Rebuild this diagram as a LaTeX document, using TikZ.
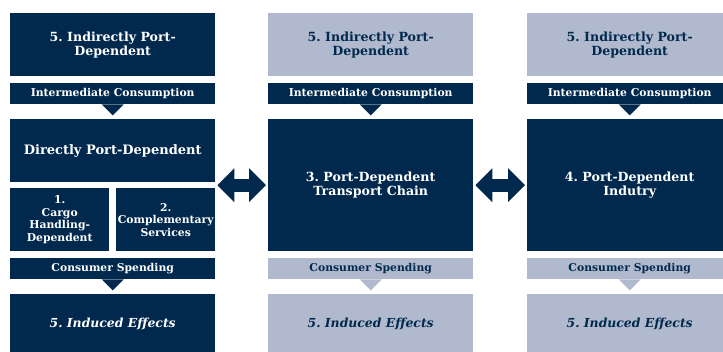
\documentclass[tikz,border=0pt]{standalone}
\usepackage{fontspec}
\setmainfont{DejaVu Serif}
\usetikzlibrary{arrows.meta}
\definecolor{portnavy}{RGB}{0,41,77}
\definecolor{portgrey}{RGB}{176,185,205}
\frenchspacing

\begin{document}
\begin{tikzpicture}[x=1pt, y=-1pt,
    darkbox/.style={fill=portnavy, text=white, anchor=north west, align=center, inner sep=0pt,
        minimum width=205pt, font=\bfseries\fontsize{12.6}{14}\selectfont},
    lightbox/.style={darkbox, fill=portgrey, text=portnavy},
    darkband/.style={darkbox, minimum height=21pt, font=\bfseries\fontsize{10.8}{12}\selectfont},
    lightband/.style={darkband, fill=portgrey, text=portnavy},
    subbox/.style={darkbox, minimum width=99pt, minimum height=63pt, font=\bfseries\fontsize{10.8}{12.5}\selectfont},
    induced/.style={minimum height=60pt, font=\bfseries\itshape\fontsize{12.4}{14}\selectfont},
    linkarrow/.style={portnavy, line width=13pt, shorten <=2pt, shorten >=2pt,
        {Triangle[length=17pt 0, width=33pt 0]}-{Triangle[length=17pt 0, width=33pt 0]}}]
    \useasboundingbox (0,0) rectangle (723,351);

    % column 1: directly port-dependent
    \node[darkbox, minimum height=63pt] (indirect1) at (10,13) {5. Indirectly Port-\\Dependent};
    \node[darkband] (inter1) at (10,83) {Intermediate Consumption};
    \node[darkbox, minimum height=63pt, font=\bfseries\fontsize{13}{14}\selectfont] (direct) at (10,119) {Directly Port-Dependent};
    \node[subbox] (cargo) at (10,188) {1.\\Cargo\\Handling-\\Dependent};
    \node[subbox] (compl) at (116,188) {2.\\Complementary\\Services};
    \node[darkband] (spend1) at (10,258) {Consumer Spending};
    \node[darkbox, induced] (induced1) at (10,294) {5. Induced Effects};

    % column 2: transport chain
    \node[lightbox, minimum height=63pt] (indirect2) at (268,13) {5. Indirectly Port-\\Dependent};
    \node[darkband] (inter2) at (268,83) {Intermediate Consumption};
    \node[darkbox, minimum height=132pt] (chain) at (268,119) {3. Port-Dependent\\Transport Chain};
    \node[lightband] (spend2) at (268,258) {Consumer Spending};
    \node[lightbox, induced] (induced2) at (268,294) {5. Induced Effects};

    % column 3: industry
    \node[lightbox, minimum height=63pt] (indirect3) at (527,13) {5. Indirectly Port-\\Dependent};
    \node[darkband] (inter3) at (527,83) {Intermediate Consumption};
    \node[darkbox, minimum height=132pt] (industry) at (527,119) {4. Port-Dependent\\Indutry};
    \node[lightband] (spend3) at (527,258) {Consumer Spending};
    \node[lightbox, induced] (induced3) at (527,294) {5. Induced Effects};

    % notches under the bands
    \fill[portnavy] ([xshift=-11pt]inter1.south) -- ([xshift=11pt]inter1.south) -- ([yshift=-11pt]inter1.south) -- cycle;
    \fill[portnavy] ([xshift=-11pt]inter2.south) -- ([xshift=11pt]inter2.south) -- ([yshift=-11pt]inter2.south) -- cycle;
    \fill[portnavy] ([xshift=-11pt]inter3.south) -- ([xshift=11pt]inter3.south) -- ([yshift=-11pt]inter3.south) -- cycle;
    \fill[portnavy] ([xshift=-11pt]spend1.south) -- ([xshift=11pt]spend1.south) -- ([yshift=-11pt]spend1.south) -- cycle;
    \fill[portgrey] ([xshift=-11pt]spend2.south) -- ([xshift=11pt]spend2.south) -- ([yshift=-11pt]spend2.south) -- cycle;
    \fill[portgrey] ([xshift=-11pt]spend3.south) -- ([xshift=11pt]spend3.south) -- ([yshift=-11pt]spend3.south) -- cycle;

    % links between the columns
    \draw[linkarrow] (chain.west -| direct.east) -- (chain.west);
    \draw[linkarrow] (chain.east) -- (industry.west);
\end{tikzpicture}
\end{document}
